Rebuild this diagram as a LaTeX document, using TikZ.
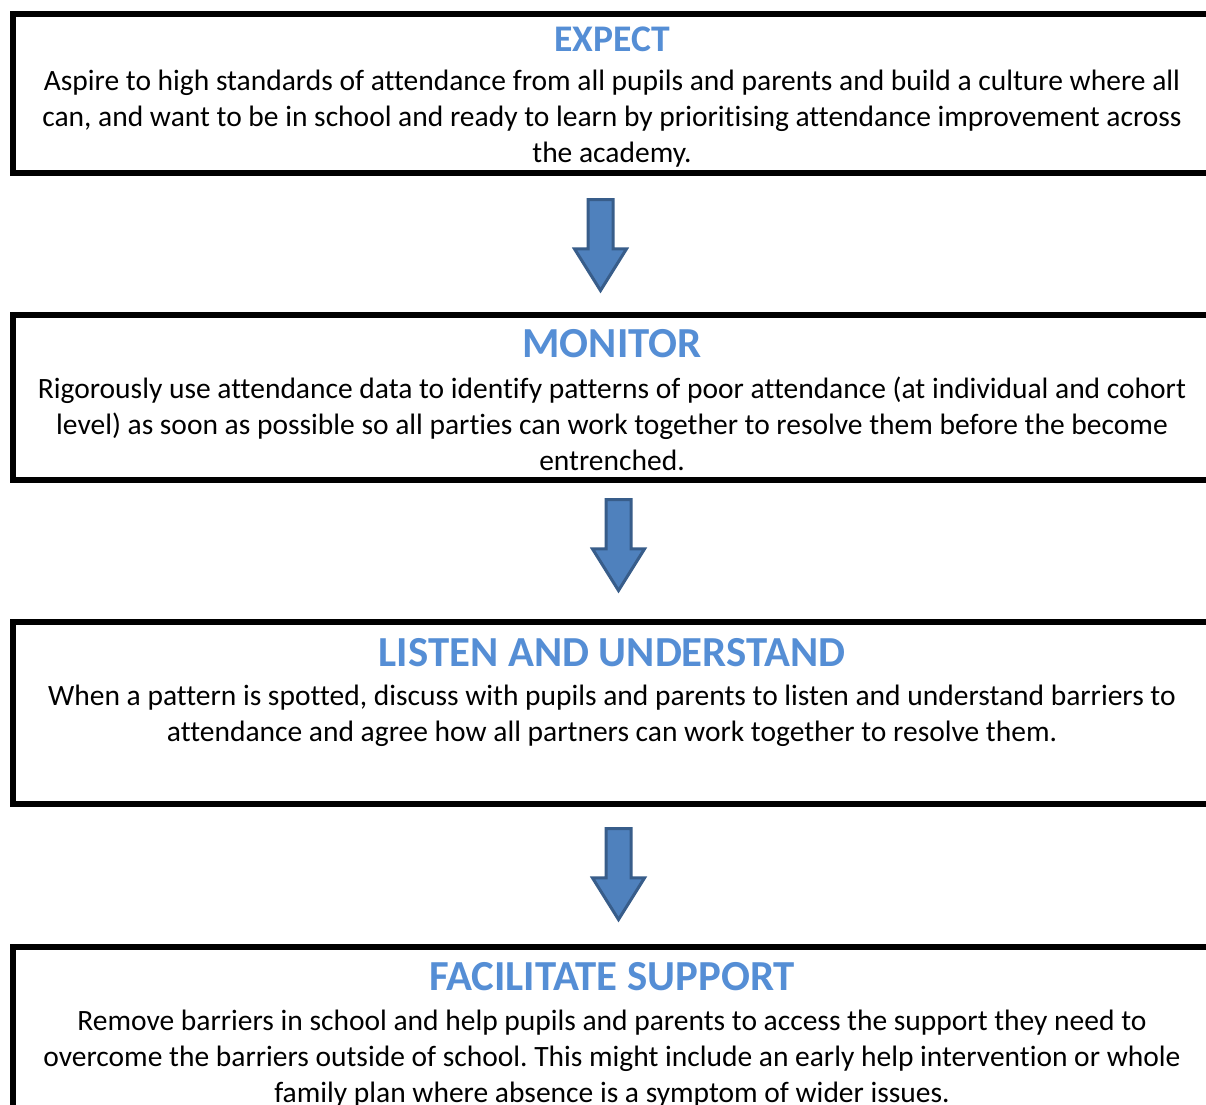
\documentclass[tikz,border=0pt]{standalone}
\usepackage{fontspec}
\setmainfont{Carlito}[Ligatures=NoCommon]
\usetikzlibrary{shapes.arrows}
\definecolor{titleblue}{HTML}{558ED5}
\definecolor{arrowfill}{HTML}{4F81BD}
\definecolor{arrowline}{HTML}{385D8A}
\frenchspacing
\begin{document}
\begin{tikzpicture}[x=1pt,y=-1pt,
  framebox/.style={draw=black, line width=6pt, rectangle, inner sep=0pt, minimum width=1212pt, fill=white},
  titletext/.style={anchor=base, inner sep=0pt, text=titleblue, font=\bfseries\fontsize{42.8}{50}\selectfont},
  bodytext/.style={anchor=base, inner sep=0pt, align=center, text=black, font=\fontsize{29.5}{36}\selectfont},
  blockarrow/.style={shape=single arrow, rotate=-90, draw=arrowline, fill=arrowfill, line width=3pt,
    inner xsep=0pt, inner ysep=11pt, minimum width=49pt, single arrow head extend=13.5pt, single arrow tip angle=64,
    single arrow head indent=0pt}
]
\useasboundingbox (0,0) rectangle (1206,1104);
\fill[white] (0,0) rectangle (1206,1104);

% boxes
\node[framebox, minimum height=159pt] (b1) at (619,93.5) {};
\node[framebox, minimum height=165pt] (b2) at (619,397.5) {};
\node[framebox, minimum height=182.5pt] (b3) at (619,712.75) {};
\node[framebox, minimum height=183pt] (b4) at (619,1038.5) {};

% titles
\node[titletext, font=\bfseries\fontsize{37.6}{44}\selectfont] (t1) at (612,51) {EXPECT};
\node[titletext] (t2) at (612,357) {MONITOR};
\node[titletext] (t3) at (612,666) {LISTEN AND UNDERSTAND};
\node[titletext] (t4) at (612,990) {FACILITATE SUPPORT};

% bodies (base anchor = baseline of last line)
\node[bodytext] (x1) at (612,162) {Aspire to high standards of attendance from all pupils and parents and build a culture where all\\can, and want to be in school and ready to learn by prioritising attendance improvement across\\the academy.};
\node[bodytext] (x2) at (612,470) {Rigorously use attendance data to identify patterns of poor attendance (at individual and cohort\\level) as soon as possible so all parties can work together to resolve them before the become\\entrenched.};
\node[bodytext] (x3) at (612,741) {When a pattern is spotted, discuss with pupils and parents to listen and understand barriers to\\attendance and agree how all partners can work together to resolve them.};
\node[bodytext] (x4) at (612,1102) {Remove barriers in school and help pupils and parents to access the support they need to\\overcome the barriers outside of school. This might include an early help intervention or whole\\family plan where absence is a symptom of wider issues.};

% arrows
\node[blockarrow, minimum height=91pt] (a1) at (600.5,235) {};
\node[blockarrow, minimum height=91pt] (a2) at (618.5,535) {};
\node[blockarrow, minimum height=91pt] (a3) at (618.5,864) {};
\end{tikzpicture}
\end{document}
